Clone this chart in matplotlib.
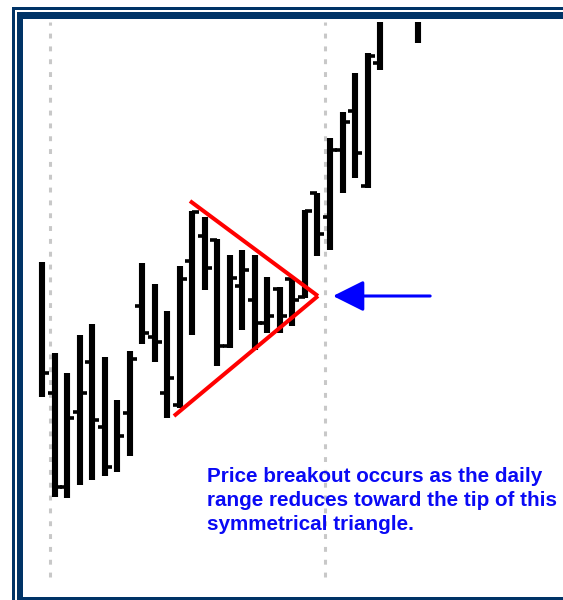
import numpy as np
import matplotlib
matplotlib.use("Agg")
import matplotlib.pyplot as plt
from matplotlib.patches import Rectangle

# ---- data (daily OHLC, arbitrary price units) ----
days = [0, 1, 2, 3, 4, 5, 6, 7, 8, 9, 10, 11, 12, 13, 14, 15, 16, 17, 18, 19,
        20, 21, 22, 23, 24, 25, 26, 27, 30]
opens = [np.nan, 20.7, 11.3, 18.8, 23.8, 17.3, np.nan, 18.7, 29.4, 26.3,
         20.7, 19.5, 33.9, 36.4, 36.0, 25.4, 31.4, 30.0, 27.7, 31.1,
         32.1, 30.3, 40.7, 38.3, 45.0, 48.9, 41.4, 53.7, np.nan]
highs = [33.8, 24.7, 22.7, 26.5, 27.6, 24.3, 20.0, 24.9, 33.7, 31.6,
         28.9, 33.4, 38.9, 38.3, 36.1, 34.5, 35.0, 34.5, 32.3, 31.3,
         32.1, 39.0, 40.7, 46.2, 48.8, 52.7, 54.7, 60.0, 60.0]
lows = [20.3, 10.3, 10.2, 11.5, 12.0, 12.4, 12.8, 14.4, 25.6, 23.8,
        18.2, 19.2, 26.5, 31.0, 23.4, 25.2, 27.0, 25.0, 26.7, 26.7,
        27.4, 30.2, 34.4, 35.0, 40.7, 42.2, 41.2, 53.0, 55.7]
closes = [22.7, 11.3, 18.2, 20.7, 18.0, 13.3, 16.4, 24.1, 26.7, 25.8,
          22.2, 32.1, 38.8, 33.2, 25.4, 32.2, 33.0, 27.7, 28.4, 28.4,
          30.0, 38.9, 36.6, 45.0, 47.8, 44.7, 54.4, np.nan, np.nan]

# triangle trendlines and arrow (data coordinates)
upper_line_x = [11.82, 22.04]
upper_line_y = [39.9, 30.4]
lower_line_x = [10.54, 22.04]
lower_line_y = [18.4, 30.4]
arrow_from = (31.0, 30.4)
arrow_to = (23.24, 30.4)
week_lines = [0.64, 22.6]

note = ("Price breakout occurs as the daily\n"
        "range reduces toward the tip of this\n"
        "symmetrical triangle.")

W, H = 563, 600
NAVY = "#003366"

fig = plt.figure(figsize=(W / 100, H / 100), dpi=100)
fig.patch.set_facecolor("white")

def px_rect(x0, y0, x1, y1, color):
    fig.patches.append(Rectangle((x0 / W, 1 - y1 / H), (x1 - x0) / W, (y1 - y0) / H,
                                 transform=fig.transFigure, facecolor=color,
                                 edgecolor="none", zorder=5))

ax = fig.add_axes([23 / W, 3 / H, 540 / W, 575 / H])
ax.set_xlim(-1.518, 41.61)
ax.set_ylim(0.3, 57.8)
ax.axis("off")

for wl in week_lines:
    ax.axvline(wl, ymin=0.035, ymax=1, color="#c8c8c8", lw=2.2,
               linestyle=(0, (1.6, 2.6)), zorder=1)

d = np.array(days, dtype=float)
o = np.array(opens)
h = np.array(highs)
l = np.array(lows)
c = np.array(closes)

ax.vlines(d, l, h, color="black", lw=4.4, zorder=3, capstyle="butt")
mo = ~np.isnan(o)
ax.hlines(o[mo], d[mo] - 0.56, d[mo], color="black", lw=2.6, zorder=3)
mc = ~np.isnan(c)
ax.hlines(c[mc], d[mc], d[mc] + 0.56, color="black", lw=2.6, zorder=3)

ax.plot(upper_line_x, upper_line_y, color="#ff0000", lw=2.9, zorder=4,
        solid_capstyle="butt")
ax.plot(lower_line_x, lower_line_y, color="#ff0000", lw=2.9, zorder=4,
        solid_capstyle="butt")

ax.annotate("", xy=arrow_to, xytext=arrow_from,
            arrowprops=dict(arrowstyle="-|>,head_length=19,head_width=9.5",
                            mutation_scale=1, color="#0000ff", lw=2.2,
                            shrinkA=0, shrinkB=0))

fig.text(207 / W, 1 - 467 / H, note, ha="left", va="top", color="#0a0af5",
         fontsize=14.9, fontweight="bold", family="Liberation Sans",
         linespacing=1.34)

# frame
px_rect(12, 7, 563, 10, NAVY)
px_rect(12, 7, 15, 600, NAVY)
px_rect(17, 12, 563, 19, NAVY)
px_rect(17, 12, 23, 600, NAVY)
px_rect(17, 597, 563, 600, NAVY)

fig.savefig("out.png", dpi=100, facecolor="white")
